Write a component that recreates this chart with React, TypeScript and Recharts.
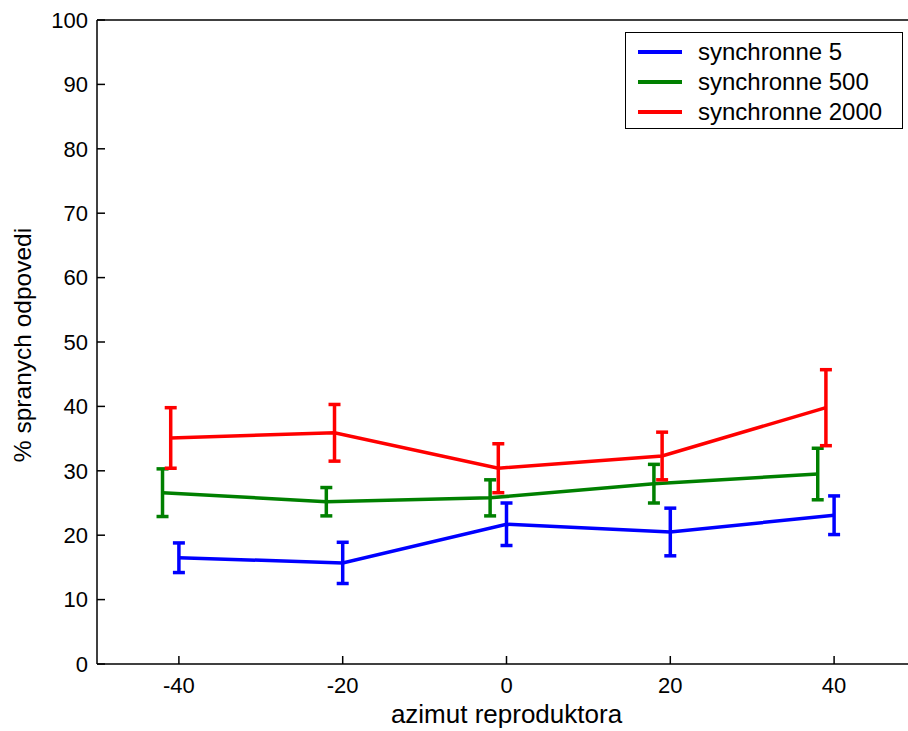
import React from "react";
import { LineChart, Line, XAxis, YAxis, ErrorBar } from "recharts";

// ── Data ────────────────────────────────────────────────────────────
const xTicks = [-40, -20, 0, 20, 40];
const yTicks = [0, 10, 20, 30, 40, 50, 60, 70, 80, 90, 100];

// each series is drawn slightly shifted along x, as in the original
const x5 = [-40, -20, 0, 20, 40];
const y5 = [16.5, 15.7, 21.7, 20.5, 23.1];
const err5 = [2.3, 3.2, 3.3, 3.7, 3.0];

const x500 = [-42, -22, -2, 18, 38];
const y500 = [26.6, 25.2, 25.8, 28.0, 29.5];
const err500 = [3.7, 2.2, 2.8, 3.0, 4.0];

const x2000 = [-41, -21, -1, 19, 39];
const y2000 = [35.1, 35.9, 30.4, 32.3, 39.8];
const err2000 = [4.7, 4.4, 3.8, 3.7, 5.9];

const SERIES = [
  { name: "synchronne 5", color: "#0000ff", xs: x5, ys: y5, errs: err5 },
  { name: "synchronne 500", color: "#008000", xs: x500, ys: y500, errs: err500 },
  { name: "synchronne 2000", color: "#ff0000", xs: x2000, ys: y2000, errs: err2000 },
];

const FONT = "'Liberation Sans', Arial, Helvetica, sans-serif";

const toRows = (xs: number[], ys: number[], errs: number[]) =>
  xs.map((x, i) => ({ x, y: ys[i], err: errs[i] }));

// mirrored axes keep their tick marks but show no labels
const NoLabel = () => <g />;

// rotated y-axis title, placed at the far left of the axis area
const YTitle = (props: any) => {
  const vb = props.viewBox || {};
  const cy = (vb.y ?? 0) + (vb.height ?? 0) / 2 + 3;
  const cx = 22;
  return (
    <text
      x={cx}
      y={cy}
      transform={`rotate(-90 ${cx} ${cy})`}
      textAnchor="middle"
      dominantBaseline="central"
      fontSize={24.5}
      fontFamily={FONT}
      fill="#000"
    >
      % spranych odpovedi
    </text>
  );
};

function BoxLegend() {
  return (
    <div
      style={{
        position: "absolute",
        left: 625,
        top: 32,
        width: 278,
        height: 97,
        border: "1.5px solid #000",
        background: "#fff",
        boxSizing: "border-box",
        fontFamily: FONT,
        fontSize: 24,
        color: "#000",
        paddingTop: 4,
      }}
    >
      {SERIES.map((s) => (
        <div
          key={s.name}
          style={{ display: "flex", alignItems: "center", height: 30, lineHeight: "30px" }}
        >
          <svg width={72} height={30} style={{ flex: "none" }}>
            <line x1={12} x2={56} y1={15} y2={15} stroke={s.color} strokeWidth={4} />
          </svg>
          <span>{s.name}</span>
        </div>
      ))}
    </div>
  );
}

export default function App() {
  const tickStyle = { fontSize: 22, fill: "#000", fontFamily: FONT };
  const axisLine = { stroke: "#000", strokeWidth: 1.5 };

  return (
    <div
      style={{
        position: "absolute",
        left: 0,
        top: 0,
        width: 908,
        height: 731,
        overflow: "hidden",
        background: "#fff",
      }}
    >
      <LineChart
        width={930}
        height={731}
        margin={{ top: 19, right: 13, bottom: 7, left: 0 }}
      >
        <XAxis
          dataKey="x"
          type="number"
          domain={[-50, 50]}
          ticks={xTicks}
          allowDuplicatedCategory={false}
          height={60}
          tickSize={-8}
          tickMargin={21}
          axisLine={axisLine}
          tickLine={axisLine}
          tick={tickStyle}
          label={{
            value: "azimut reproduktora",
            position: "insideBottom",
            offset: 1,
            style: { fontSize: 26, fill: "#000", fontFamily: FONT },
          }}
        />
        <XAxis
          xAxisId="top"
          orientation="top"
          dataKey="x"
          type="number"
          domain={[-50, 50]}
          ticks={xTicks}
          height={1}
          tickSize={-8}
          axisLine={axisLine}
          tickLine={axisLine}
          tick={<NoLabel />}
        />
        <YAxis
          type="number"
          domain={[0, 100]}
          ticks={yTicks}
          width={97}
          tickSize={-8}
          tickMargin={17}
          axisLine={axisLine}
          tickLine={axisLine}
          tick={tickStyle}
          label={<YTitle />}
        />
        <YAxis
          yAxisId="right"
          orientation="right"
          type="number"
          domain={[0, 100]}
          ticks={yTicks}
          width={1}
          tickSize={-8}
          axisLine={axisLine}
          tickLine={axisLine}
          tick={<NoLabel />}
        />
        {SERIES.map((s) => (
          <Line
            key={s.name}
            name={s.name}
            data={toRows(s.xs, s.ys, s.errs)}
            dataKey="y"
            stroke={s.color}
            strokeWidth={3.5}
            dot={false}
            activeDot={false}
            isAnimationActive={false}
          >
            <ErrorBar
              dataKey="err"
              direction="y"
              width={6}
              stroke={s.color}
              strokeWidth={3.5}
              isAnimationActive={false}
            />
          </Line>
        ))}
      </LineChart>
      <BoxLegend />
    </div>
  );
}
